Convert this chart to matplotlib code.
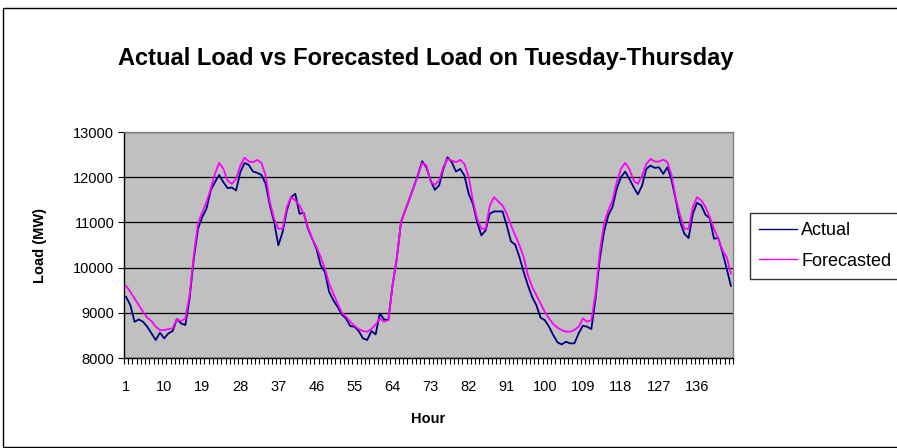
import matplotlib
matplotlib.use("Agg")
import matplotlib.pyplot as plt
from matplotlib.patches import Rectangle
from matplotlib.ticker import FixedLocator, NullFormatter

actual = [
    9353, 9169, 8802, 8853, 8802, 8692, 8545, 8398, 8560, 8435,
    8545, 8596, 8860, 8765, 8728, 9316, 10199, 10860, 11118, 11302,
    11706, 11890, 12051, 11890, 11757, 11772, 11706, 12110, 12316, 12272,
    12125, 12096, 12051, 11853, 11375, 11008, 10493, 10787, 11265, 11559,
    11632, 11191, 11213, 10860, 10640, 10419, 10052, 9904, 9463, 9279,
    9132, 8963, 8875, 8706, 8692, 8596, 8435, 8398, 8596, 8523,
    8985, 8853, 8838, 9610, 10199, 11008, 11265, 11522, 11780, 12051,
    12353, 12220, 11926, 11721, 11816, 12184, 12441, 12331, 12125, 12184,
    12037, 11632, 11412, 11008, 10713, 10824, 11191, 11243, 11243, 11243,
    10934, 10581, 10507, 10235, 9904, 9610, 9353, 9169, 8890, 8838,
    8692, 8507, 8346, 8301, 8360, 8324, 8324, 8545, 8714, 8692,
    8640, 9316, 10199, 10787, 11154, 11338, 11743, 12000, 12125, 11963,
    11780, 11618, 11816, 12184, 12257, 12206, 12220, 12074, 12220, 11926,
    11485, 11008, 10750, 10654, 11191, 11434, 11375, 11169, 11096, 10640,
    10654, 10346, 9978, 9596,
]
forecasted = [
    9596, 9463, 9316, 9169, 9022, 8890, 8816, 8692, 8618, 8618,
    8640, 8655, 8860, 8816, 8875, 9390, 10272, 10971, 11228, 11449,
    11743, 12074, 12316, 12184, 11926, 11853, 11963, 12257, 12434, 12345,
    12331, 12382, 12316, 12037, 11449, 11081, 10860, 10860, 11338, 11559,
    11485, 11375, 11191, 10897, 10640, 10456, 10235, 9978, 9647, 9426,
    9206, 9008, 8912, 8802, 8714, 8640, 8596, 8582, 8640, 8743,
    8875, 8802, 8838, 9610, 10199, 11008, 11265, 11522, 11780, 12037,
    12316, 12257, 11904, 11831, 11926, 12220, 12404, 12367, 12331, 12382,
    12294, 12000, 11485, 11081, 10860, 10860, 11375, 11559, 11463, 11375,
    11191, 10934, 10713, 10493, 10235, 9831, 9574, 9390, 9206, 9022,
    8875, 8750, 8669, 8618, 8582, 8582, 8618, 8692, 8875, 8802,
    8838, 9426, 10346, 10971, 11265, 11485, 11890, 12184, 12316, 12184,
    11926, 11853, 12037, 12294, 12404, 12345, 12345, 12390, 12331, 12037,
    11522, 11154, 10860, 10860, 11338, 11559, 11485, 11338, 11118, 10860,
    10640, 10383, 10235, 9868,
]
hours = list(range(1, len(actual) + 1))
x_tick_labels = [1, 10, 19, 28, 37, 46, 55, 64, 73, 82, 91, 100, 109, 118, 127, 136]
y_ticks = [8000, 9000, 10000, 11000, 12000, 13000]

plt.rcParams['font.family'] = ['Liberation Sans', 'DejaVu Sans']

W, H = 897, 448
fig = plt.figure(figsize=(W / 100, H / 100), dpi=100)
fig.patch.set_facecolor('white')

# outer chart border
fig.patches.append(Rectangle((3 / W, 1 / H), (905 - 3) / W, (440 - 1) / H,
                             transform=fig.transFigure, fill=False,
                             edgecolor='black', linewidth=1.0, clip_on=False))

ax = fig.add_axes([124 / W, 1 - 358 / H, (733 - 124) / W, (358 - 132) / H])
ax.set_facecolor('#C0C0C0')

ax.plot(hours, actual, color='#000080', linewidth=1.3, label='Actual')
ax.plot(hours, forecasted, color='#FF00FF', linewidth=1.3, label='Forecasted')

ax.set_xlim(0.5, len(actual) + 0.5)
ax.set_ylim(8000, 13000)
ax.set_yticks(y_ticks)
ax.set_yticklabels([str(v) for v in y_ticks])
ax.yaxis.grid(True, color='black', linewidth=0.9)
ax.set_axisbelow(True)

ax.set_xticks(x_tick_labels)
ax.set_xticklabels([str(v) for v in x_tick_labels])
ax.xaxis.set_minor_locator(FixedLocator([i + 0.5 for i in range(0, len(actual) + 1)]))
ax.xaxis.set_minor_formatter(NullFormatter())
ax.tick_params(axis='x', which='major', length=0, pad=16, labelsize=10.5)
ax.tick_params(axis='x', which='minor', length=4, width=0.8, direction='out')
ax.tick_params(axis='y', which='major', length=4, width=0.8, direction='out', pad=3, labelsize=10.5)

for s in ['left', 'bottom']:
    ax.spines[s].set_color('black')
    ax.spines[s].set_linewidth(1.0)
for s in ['top', 'right']:
    ax.spines[s].set_color('#808080')
    ax.spines[s].set_linewidth(1.0)

fig.text(426 / W, 1 - 59 / H, 'Actual Load vs Forecasted Load on Tuesday-Thursday',
         ha='center', va='center', fontsize=17, fontweight='bold')
ax.set_xlabel('Hour', fontsize=10.5, fontweight='bold', labelpad=12.5)
ax.set_ylabel('Load (MW)', fontsize=10.5, fontweight='bold', labelpad=19)

leg = ax.legend(loc='upper left', bbox_to_anchor=(750 / W, 1 - 213 / H),
                bbox_transform=fig.transFigure, borderaxespad=0,
                frameon=True, fancybox=False, edgecolor='black',
                fontsize=13, handlelength=2.1, handletextpad=0.25,
                borderpad=0.5, labelspacing=0.75)
leg.get_frame().set_linewidth(1.0)
for line in leg.get_lines():
    line.set_linewidth(1.0)

fig.savefig('out.png', dpi=100, facecolor='white')
